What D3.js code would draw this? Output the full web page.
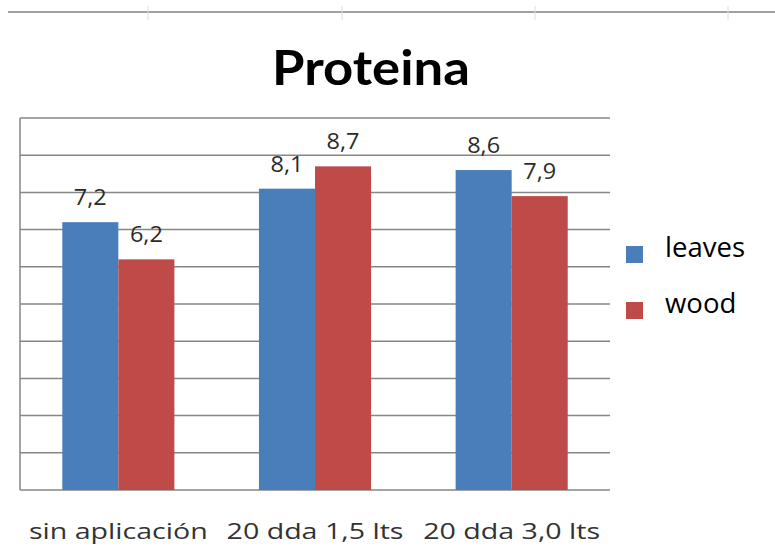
<!DOCTYPE html>
<html><head><meta charset="utf-8">
<script src="https://cdn.jsdelivr.net/npm/d3@7"></script>
<style>body{margin:0;background:#fff}svg{display:block}</style>
</head><body>
<svg id="c" width="775" height="548"></svg>
<script>
const categories = ["sin aplicación", "20 dda 1,5 lts", "20 dda 3,0 lts"];
const seriesNames = ["leaves", "wood"];
const leaves = [7.2, 8.1, 8.6];
const wood = [6.2, 8.7, 7.9];
const valueLabels = [["7,2", "8,1", "8,6"], ["6,2", "8,7", "7,9"]];
const yTicks = [0,1,2,3,4,5,6,7,8,9,10];
const colors = ["#4a7ebb", "#be4b48"];

const svg = d3.select("#c");
const plot = {left: 20, right: 610, top: 118, bottom: 490};

// top frame line
svg.append("line").attr("x1", 8).attr("x2", 775).attr("y1", 12).attr("y2", 12)
  .attr("stroke", "#a0a0a0").attr("stroke-width", 2);
svg.selectAll("line.tk").data([148, 342, 535, 728]).enter().append("line")
  .attr("x1", d => d).attr("x2", d => d).attr("y1", 6).attr("y2", 20)
  .attr("stroke", "#dcdcdc").attr("stroke-width", 1);

const x0 = d3.scaleBand().domain(categories).range([plot.left, plot.right])
  .paddingInner(0.43).paddingOuter(0.215);
const x1 = d3.scaleBand().domain(seriesNames).range([0, x0.bandwidth()]);
const y = d3.scaleLinear().domain([0, 10]).range([plot.bottom, plot.top]);

// gridlines
svg.append("g").selectAll("line").data(yTicks).enter().append("line")
  .attr("x1", plot.left).attr("x2", plot.right)
  .attr("y1", d => y(d)).attr("y2", d => y(d))
  .attr("stroke", "#868686").attr("stroke-width", 1.5);
svg.append("line").attr("x1", plot.left).attr("x2", plot.left)
  .attr("y1", plot.top).attr("y2", plot.bottom)
  .attr("stroke", "#868686").attr("stroke-width", 1.5);

const series = [leaves, wood];
series.forEach((vals, si) => {
  const g = svg.append("g");
  g.selectAll("rect").data(vals).enter().append("rect")
    .attr("x", (d, i) => x0(categories[i]) + x1(seriesNames[si]))
    .attr("y", d => y(d))
    .attr("width", x1.bandwidth())
    .attr("height", d => y(0) - y(d))
    .attr("fill", colors[si]);
  g.selectAll("text").data(vals).enter().append("text")
    .attr("transform", (d, i) => `translate(${x0(categories[i]) + x1(seriesNames[si]) + x1.bandwidth()/2},${y(d) - 17}) scale(1.12,1)`)
    .attr("text-anchor", "middle")
    .attr("font-family", "Open Sans, sans-serif").attr("font-size", 21)
    .attr("fill", "#2b2b2b")
    .text((d, i) => valueLabels[si][i]);
});

// x axis labels
svg.append("g").selectAll("text").data(categories).enter().append("text")
  .attr("transform", d => `translate(${x0(d) + x0.bandwidth()/2},539) scale(1.3,1)`)
  .attr("text-anchor", "middle")
  .attr("font-family", "Open Sans, sans-serif").attr("font-size", 22)
  .attr("fill", "#333")
  .text(d => d);

// title
svg.append("text")
  .attr("transform", `translate(371,85) scale(1.12,1)`)
  .attr("text-anchor", "middle")
  .attr("font-family", "Lato, sans-serif").attr("font-weight", "bold")
  .attr("font-size", 47).attr("fill", "#000")
  .text("Proteina");

// legend
const leg = svg.append("g");
seriesNames.forEach((s, i) => {
  const yy = 254 + i * 56;
  leg.append("rect").attr("x", 626).attr("y", yy - 8).attr("width", 17).attr("height", 17)
    .attr("fill", colors[i]);
  leg.append("text").attr("transform", `translate(665,${yy + 3}) scale(1.02,1)`)
    .attr("font-family", "Open Sans, sans-serif").attr("font-size", 27)
    .attr("fill", "#000").text(s);
});
</script>
</body></html>
